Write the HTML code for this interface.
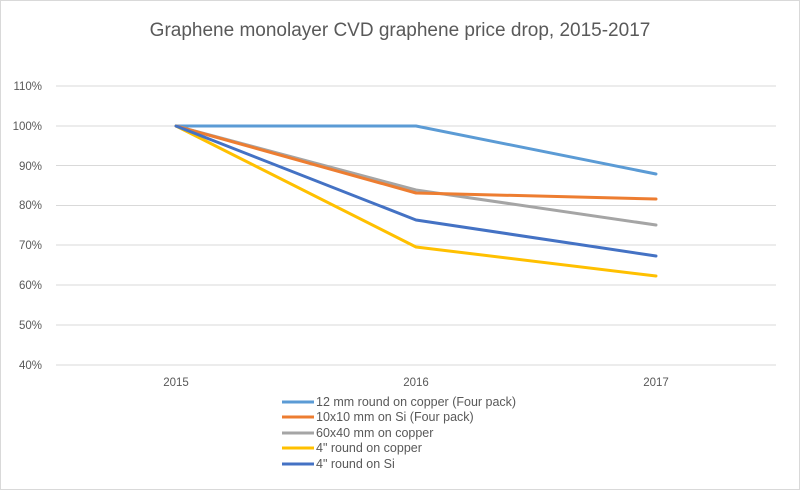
<!DOCTYPE html>
<html><head><style>
body{margin:0;background:#fff;}
svg{display:block;font-family:"Liberation Sans",sans-serif;}
</style></head><body>
<svg width="800" height="490" viewBox="0 0 800 490">
<rect x="0.5" y="0.5" width="799" height="489" fill="#fff" stroke="#d9d9d9"/>
<text x="400" y="36" text-anchor="middle" font-size="19" fill="#595959">Graphene monolayer CVD graphene price drop, 2015-2017</text>
<g stroke="#d9d9d9" stroke-width="1">
<line x1="56" x2="776" y1="86" y2="86"/>
<line x1="56" x2="776" y1="126" y2="126"/>
<line x1="56" x2="776" y1="165.5" y2="165.5"/>
<line x1="56" x2="776" y1="205.5" y2="205.5"/>
<line x1="56" x2="776" y1="245" y2="245"/>
<line x1="56" x2="776" y1="285" y2="285"/>
<line x1="56" x2="776" y1="325" y2="325"/>
<line x1="56" x2="776" y1="365" y2="365"/>
</g>
<g font-size="11.5" fill="#595959" text-anchor="end">
<text x="42" y="90">110%</text><text x="42" y="130">100%</text><text x="42" y="170">90%</text>
<text x="42" y="209">80%</text><text x="42" y="249">70%</text><text x="42" y="289">60%</text>
<text x="42" y="329">50%</text><text x="42" y="369">40%</text>
</g>
<g font-size="11.5" fill="#595959" text-anchor="middle">
<text x="176" y="386">2015</text><text x="416" y="386">2016</text><text x="656" y="386">2017</text>
</g>
<g fill="none" stroke-width="3" stroke-linejoin="round" stroke-linecap="round">
<polyline stroke="#5b9bd5" points="176,126 416,126 656,174"/>
<polyline stroke="#a5a5a5" points="176,126 416,190 656,225"/>
<polyline stroke="#ed7d31" points="176,126 416,193 656,199"/>
<polyline stroke="#ffc000" points="176,126 416,247 656,276"/>
<polyline stroke="#4472c4" points="176,126 416,220 656,256"/>
</g>
<g stroke-width="3">
<line x1="282" x2="314" y1="402" y2="402" stroke="#5b9bd5"/>
<line x1="282" x2="314" y1="417" y2="417" stroke="#ed7d31"/>
<line x1="282" x2="314" y1="433" y2="433" stroke="#a5a5a5"/>
<line x1="282" x2="314" y1="448" y2="448" stroke="#ffc000"/>
<line x1="282" x2="314" y1="464" y2="464" stroke="#4472c4"/>
</g>
<g font-size="12.5" fill="#595959">
<text x="316" y="406">12 mm round on copper (Four pack)</text>
<text x="316" y="421">10x10 mm on Si (Four pack)</text>
<text x="316" y="437">60x40 mm  on copper</text>
<text x="316" y="452">4" round on copper</text>
<text x="316" y="468">4" round on Si</text>
</g>
</svg>
</body></html>
